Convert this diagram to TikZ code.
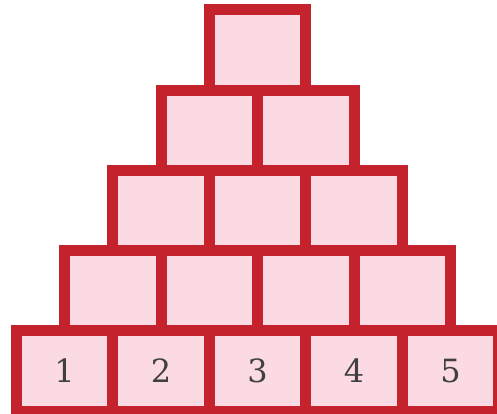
\documentclass[tikz,border=0pt]{standalone}
\usepackage{fontspec}
\newfontfamily\digitfont{DejaVu Serif}
\definecolor{brick}{RGB}{196,34,44}
\definecolor{brickfill}{RGB}{251,218,228}
\begin{document}
\begin{tikzpicture}[x=1pt,y=1pt,
  brickbox/.style={draw=brick, fill=brickfill, line width=11pt, minimum width=96.5pt, minimum height=80.2pt, inner sep=0pt, outer sep=0pt, font=\digitfont\fontsize{32}{32}\selectfont, text=black!75},
  ]
\useasboundingbox (0,0) rectangle (497,-414);
\foreach \r in {1,...,5}{
  \foreach \k in {1,...,\r}{
    \pgfmathsetmacro{\cx}{257.5+(\k-(\r+1)/2)*96.5}
    \pgfmathsetmacro{\cy}{-(10+(\r-0.5)*80.2)}
    \ifnum\r=5
      \node[brickbox] (b-\r-\k) at (\cx,\cy) {\k};
    \else
      \node[brickbox] (b-\r-\k) at (\cx,\cy) {};
    \fi
  }
}
\end{tikzpicture}
\end{document}
